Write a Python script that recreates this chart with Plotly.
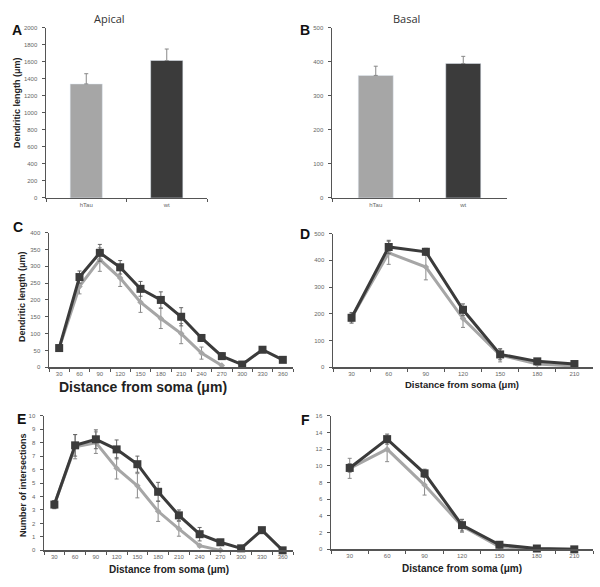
import plotly.graph_objects as go

# ---------------- data ----------------
bar_groups = ["hTau", "wt"]
apical_len = [1340, 1615]
apical_err = [120, 135]
basal_len = [360, 395]
basal_err = [27, 21]

dist_apical = ["30", "60", "90", "120", "150", "180", "210", "240", "270", "300", "330", "360"]
dist_basal = ["30", "60", "90", "120", "150", "180", "210"]

C_wt = [57, 268, 340, 297, 233, 200, 150, 87, 33, 8, 52, 22]
C_wt_err = [5, 18, 25, 20, 22, 24, 27, 10, 10, 0, 0, 0]
C_htau = [57, 240, 320, 265, 193, 145, 100, 42, 5]
C_htau_err = [5, 22, 35, 25, 30, 30, 30, 18, 0]

D_wt = [185, 450, 432, 215, 48, 22, 12]
D_wt_err = [20, 25, 13, 22, 20, 5, 5]
D_htau = [185, 428, 375, 182, 45, 12, 5]
D_htau_err = [15, 43, 48, 33, 25, 5, 3]

E_wt = [3.4, 7.8, 8.25, 7.5, 6.4, 4.35, 2.6, 1.2, 0.6, 0.15, 1.5, 0]
E_wt_err = [0.3, 0.8, 0.7, 0.7, 0.6, 0.7, 0.4, 0.5, 0.1, 0.05, 0.1, 0]
E_htau = [3.4, 7.7, 8.0, 6.1, 4.8, 2.9, 1.6, 0.35, 0]
E_htau_err = [0.3, 0.9, 0.8, 0.8, 0.9, 0.75, 0.55, 0.1, 0]

F_wt = [9.75, 13.2, 9.1, 2.9, 0.55, 0.1, 0]
F_wt_err = [0.5, 0.6, 0.5, 0.7, 0.2, 0.05, 0]
F_htau = [9.7, 12.0, 7.7, 2.8, 0.3, 0.05, 0]
F_htau_err = [1.2, 1.5, 1.2, 0.75, 0.1, 0, 0]

# ---------------- styles ----------------
LIGHT = "#a6a6a6"
DARK = "#3b3b3b"
AXC = "#555555"
TICKC = "#666666"
FONT = "Liberation Sans, Arial, sans-serif"
W, H = 600, 587


def px(x):
    return x / W


def py(y):
    return 1 - y / H


fig = go.Figure()

# bars
for (vals, errs, ax) in [(apical_len, apical_err, 1), (basal_len, basal_err, 2)]:
    fig.add_trace(go.Bar(
        x=bar_groups, y=vals, marker_color=[LIGHT, DARK], width=0.4,
        error_y=dict(type="data", array=errs, arrayminus=[0, 0], symmetric=False,
                     color="#888888", thickness=1, width=2),
        xaxis="x" if ax == 1 else "x2", yaxis="y" if ax == 1 else "y2",
        showlegend=False))


def add_lines(cats, wt, wt_err, ht, ht_err, n):
    xa = "x%d" % n
    ya = "y%d" % n
    fig.add_trace(go.Scatter(
        x=cats[:len(ht)], y=ht, mode="lines+markers",
        line=dict(color=LIGHT, width=3),
        marker=dict(symbol="diamond", size=5, color=LIGHT),
        error_y=dict(type="data", array=ht_err, color="#8a8a8a", thickness=1, width=2),
        xaxis=xa, yaxis=ya, cliponaxis=False, showlegend=False))
    fig.add_trace(go.Scatter(
        x=cats[:len(wt)], y=wt, mode="lines+markers",
        line=dict(color=DARK, width=3),
        marker=dict(symbol="square", size=8, color=DARK),
        error_y=dict(type="data", array=wt_err, color="#666666", thickness=1, width=2),
        xaxis=xa, yaxis=ya, cliponaxis=False, showlegend=False))


add_lines(dist_apical, C_wt, C_wt_err, C_htau, C_htau_err, 3)
add_lines(dist_basal, D_wt, D_wt_err, D_htau, D_htau_err, 4)
add_lines(dist_apical, E_wt, E_wt_err, E_htau, E_htau_err, 5)
add_lines(dist_basal, F_wt, F_wt_err, F_htau, F_htau_err, 6)


def xax(x0, x1, y, ncat, anchor):
    return dict(domain=[px(x0), px(x1)], anchor=anchor, type="category",
                range=[-0.5, ncat - 0.5], showline=True, linecolor=AXC, linewidth=1.5,
                ticks="outside", tickson="boundaries", ticklen=3, tickcolor=AXC,
                tickfont=dict(size=6, color=TICKC, family=FONT), showgrid=False,
                zeroline=False, fixedrange=True)


def yax(y0, y1, rng, dtick, anchor):
    return dict(domain=[py(y1), py(y0)], anchor=anchor, range=rng, dtick=dtick,
                showline=True, linecolor=AXC, linewidth=1.5, ticks="outside",
                ticklen=3, tickcolor=AXC, tickfont=dict(size=6, color=TICKC, family=FONT),
                showgrid=False, zeroline=False, ticklabelstandoff=3, fixedrange=True)


layout = dict(
    width=W, height=H, margin=dict(l=0, r=0, t=0, b=0),
    paper_bgcolor="white", plot_bgcolor="white", bargap=0.6,
    font=dict(family=FONT), hovermode=False,
    xaxis=xax(46, 207, 197, 2, "y"),
    yaxis=yax(25, 197, [0, 2000], 200, "x"),
    xaxis2=xax(332, 507, 197, 2, "y2"),
    yaxis2=yax(25, 197, [0, 500], 100, "x2"),
    xaxis3=xax(49, 293, 368, 12, "y3"),
    yaxis3=yax(232, 368, [0, 400], 50, "x3"),
    xaxis4=xax(333, 593, 368, 7, "y4"),
    yaxis4=yax(233, 368, [0, 500], 100, "x4"),
    xaxis5=xax(44, 293, 553, 12, "y5"),
    yaxis5=yax(417, 553, [0, 10], 1, "x5"),
    xaxis6=xax(331, 593, 552, 7, "y6"),
    yaxis6=yax(417, 552, [0, 16], 2, "x6"),
)
fig.update_layout(**layout)

ann = []


def text(x, y, s, size, bold=False, angle=0, color="#222222", family=FONT):
    ann.append(dict(x=px(x), y=py(y), xref="paper", yref="paper", showarrow=False,
                    text=("<b>%s</b>" % s) if bold else s, textangle=angle,
                    font=dict(size=size, color=color, family=family),
                    xanchor="center", yanchor="middle"))


# panel letters
for s, x, y in [("A", 17, 27), ("B", 305, 27), ("C", 18, 226), ("D", 305, 233),
                ("E", 21, 420), ("F", 305, 421)]:
    text(x, y, s, 14, bold=True, color="#111111")

# titles
text(110, 16, "Apical", 11, family="Open Sans, sans-serif", color="#333333")
text(406, 16, "Basal", 11, family="Open Sans, sans-serif", color="#333333")

# y titles
text(17, 101, "Dendritic length (μm)", 9, bold=True, angle=-90)
text(22, 297, "Dendritic length (μm)", 9, bold=True, angle=-90)
text(23, 487, "Number of intersections", 9, bold=True, angle=-90)

# x titles
text(143, 388, "Distance from soma (μm)", 14, bold=True)
text(462, 385, "Distance from soma (μm)", 9.5, bold=True)
text(169, 572, "Distance from soma (μm)", 10, bold=True)
text(462, 571, "Distance from soma (μm)", 10, bold=True)

fig.update_layout(annotations=ann)
fig.write_html("out.html", config={"displayModeBar": False, "staticPlot": True},
               post_script="document.body.style.margin='0';document.body.style.overflow='hidden';")
